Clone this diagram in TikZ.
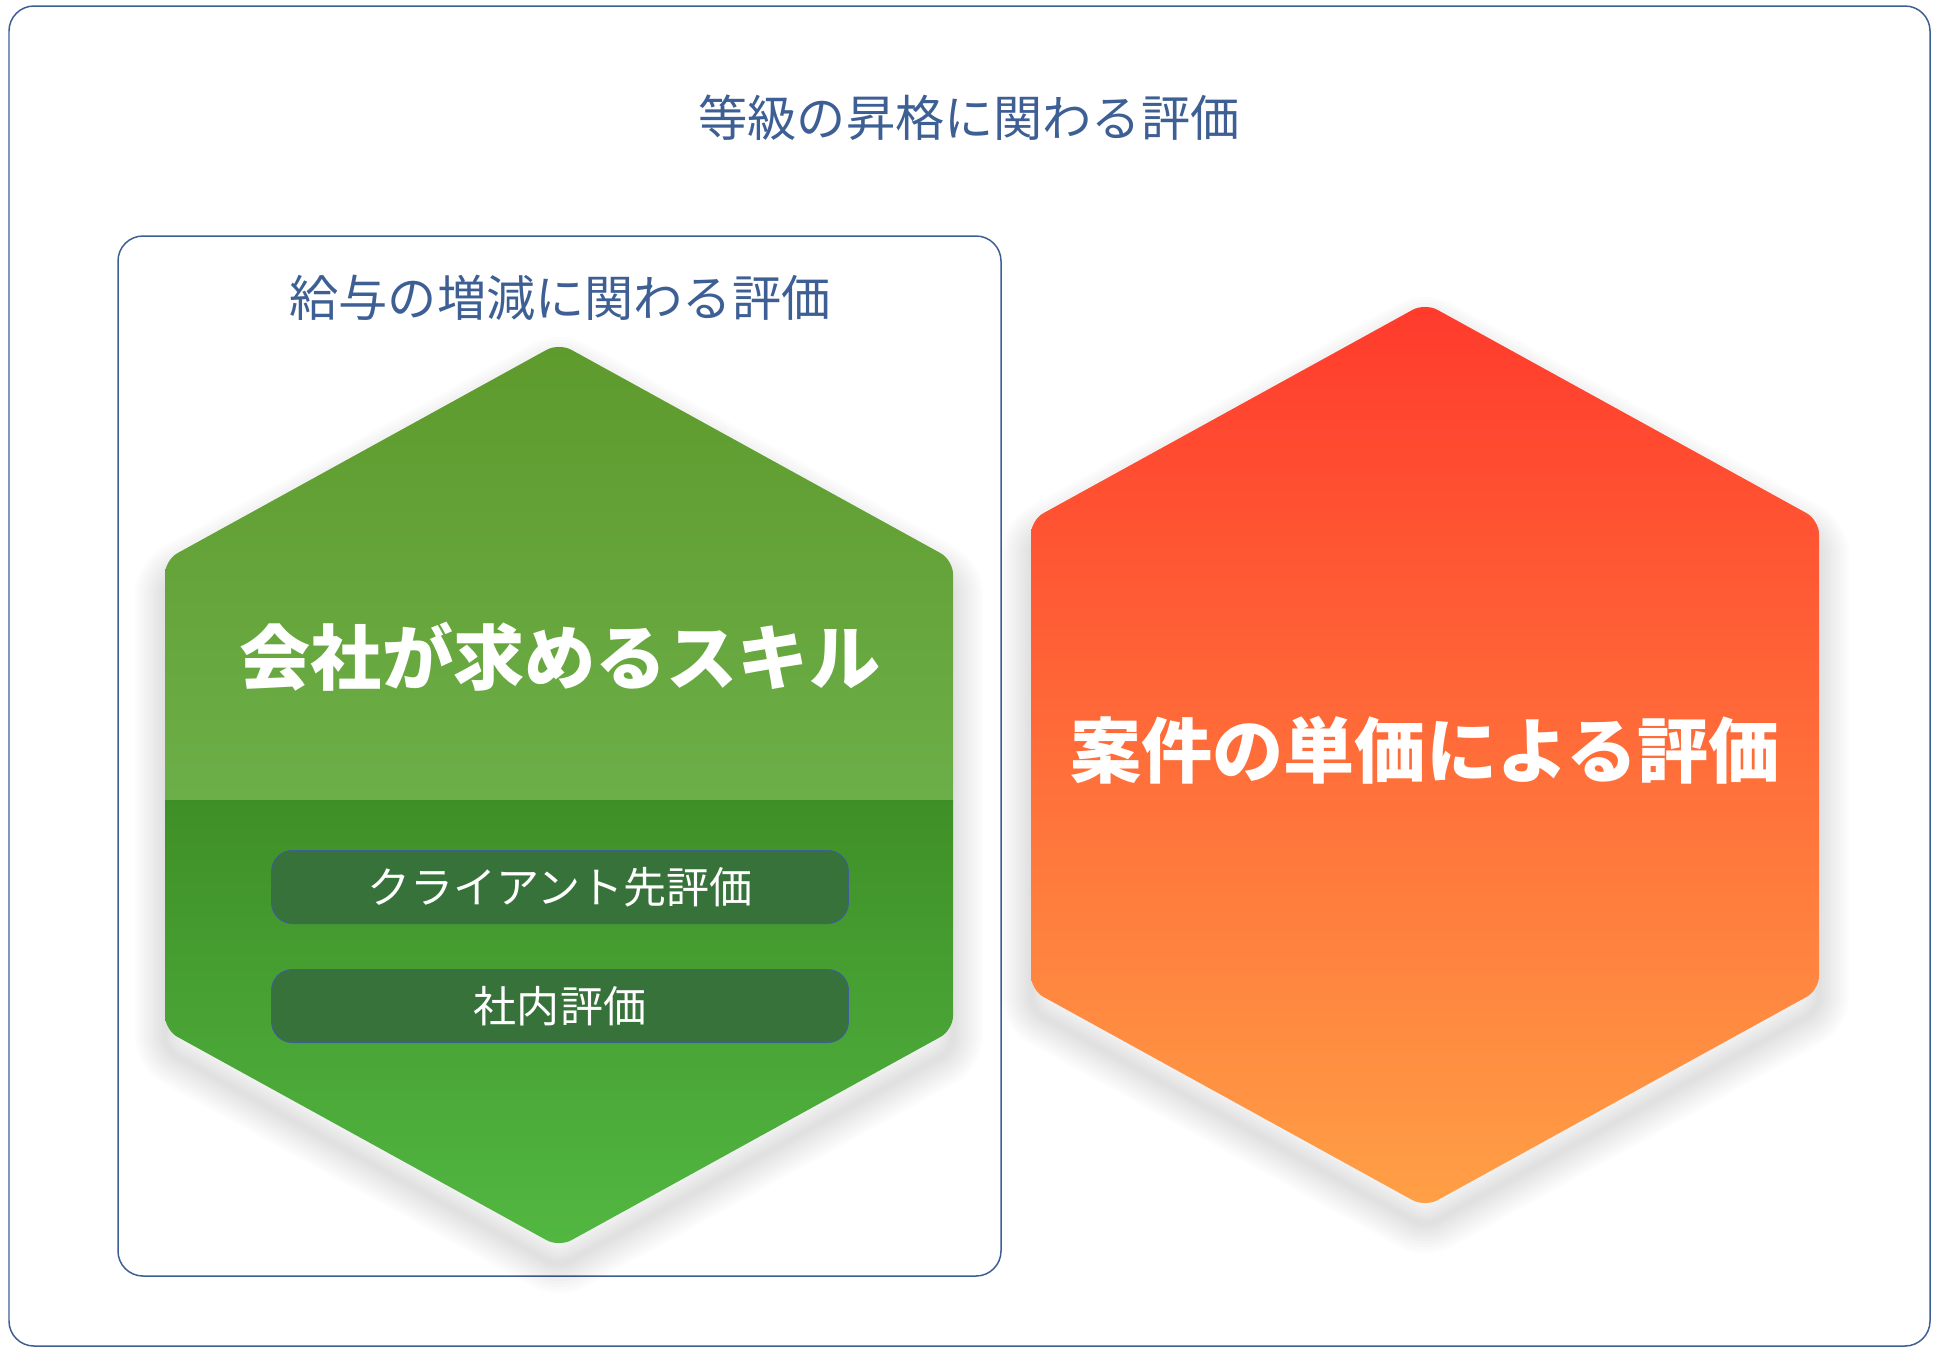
\documentclass[tikz,border=0pt]{standalone}
\usepackage{fontspec}
\setmainfont{Noto Sans CJK JP}
\usetikzlibrary{shapes}

\definecolor{framecol}{HTML}{3D5F94}
\definecolor{greenA}{HTML}{5E9A2C}
\definecolor{greenB}{HTML}{6CAE48}
\definecolor{greenC}{HTML}{3F8F27}
\definecolor{greenD}{HTML}{52B842}
\definecolor{pillcol}{HTML}{367239}
\definecolor{redA}{HTML}{FF3A2C}
\definecolor{redB}{HTML}{FFA046}

% hexagon outline around a centre (x,y), y counted downwards
\newcommand{\hexagonpath}[2]{(#1,#2-452) -- (#1+394,#2-235) -- (#1+394,#2+235) -- (#1,#2+452) -- (#1-394,#2+235) -- (#1-394,#2-235) -- cycle}

\tikzset{
  framebox/.style={draw=framecol, line width=0.03cm, rounded corners=0.5cm},
  headtext/.style={text=framecol, font=\fontsize{28pt}{30pt}\selectfont},
  bigtext/.style={text=white, font=\bfseries\fontsize{40.5pt}{44pt}\selectfont},
  pillbox/.style={rectangle, rounded corners=0.42cm, fill=pillcol, draw=framecol, line width=0.02cm,
    minimum width=11.54cm, minimum height=1.46cm, text=white, font=\fontsize{24.5pt}{26pt}\selectfont},
  hexshadow/.style={draw=black, opacity=0.012, rounded corners=8pt},
  hexround/.style={rounded corners=8pt}
}

\begin{document}
\begin{tikzpicture}[x=0.02cm, y=-0.02cm]
\useasboundingbox (0,0) rectangle (1940,1350);

% frames
\draw[framebox] (9,6) rectangle (1930,1346);
\draw[framebox] (118,236) rectangle (1001,1276);
\node[headtext] (gradetitle) at (969,118) {等級の昇格に関わる評価};
\node[headtext] (salarytitle) at (560,298) {給与の増減に関わる評価};

% soft shadows
\foreach \w in {6,12,...,60} {
  \draw[hexshadow, line width=\w*0.02cm] \hexagonpath{559}{815};
  \draw[hexshadow, line width=\w*0.02cm] \hexagonpath{1425}{775};
}

% green hexagon
\begin{scope}
\clip[hexround] \hexagonpath{559}{795};
\shade[top color=greenA, bottom color=greenB] (160,340) rectangle (960,800);
\shade[top color=greenC, bottom color=greenD] (160,800) rectangle (960,1250);
\end{scope}

% red hexagon
\begin{scope}
\clip[hexround] \hexagonpath{1425}{755};
\shade[top color=redA, bottom color=redB] (1025,300) rectangle (1825,1210);
\end{scope}

\node[bigtext] (skilltext) at (560,657) {会社が求めるスキル};
\node[pillbox] (clienteval) at (560,887) {クライアント先評価};
\node[pillbox] (internaleval) at (560,1006) {社内評価};
\node[bigtext] (pricetext) at (1425,750) {案件の単価による評価};

\end{tikzpicture}
\end{document}
